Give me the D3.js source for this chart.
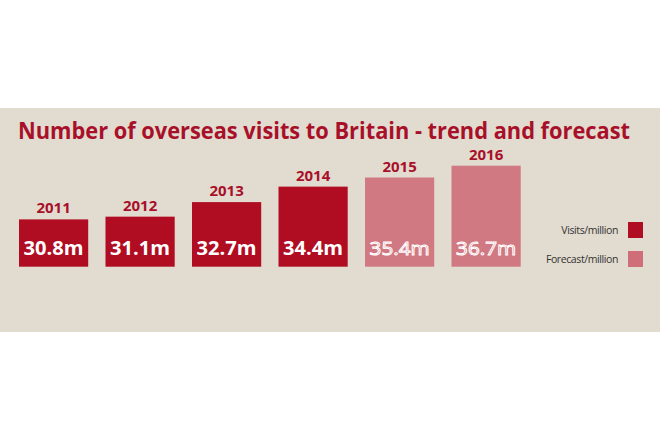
<!DOCTYPE html><html><head><meta charset="utf-8">
<script src="https://cdn.jsdelivr.net/npm/d3@7"></script>
<style>body{margin:0;background:#fff}</style></head><body>
<script>
const years=["2011","2012","2013","2014","2015","2016"];
const visits=[30.8,31.1,32.7,34.4,35.4,36.7];
const forecast=[false,false,false,false,true,true];
const labels=["30.8m","31.1m","32.7m","34.4m","35.4m","36.7m"];
const legendItems=["Visits/million","Forecast/million"];

const svg=d3.select("body").append("svg").attr("width",660).attr("height",440);
svg.append("rect").attr("x",0).attr("y",108).attr("width",660).attr("height",224).attr("fill","#e2dbcf");
svg.append("text").attr("x",18).attr("y",139).attr("fill","#a8102a")
 .attr("font-family","Open Sans").attr("font-weight",700).attr("font-size",24)
 .attr("textLength",612).attr("lengthAdjust","spacingAndGlyphs")
 .text("Number of overseas visits to Britain - trend and forecast");
const x=d3.scaleBand().domain(years).range([19,520.7]).paddingInner(0.2).paddingOuter(0);
const base=266.7;
const h=d3.scaleLinear().domain([25.6,36.7]).range([0,101]);
const g=svg.selectAll("g.b").data(years).join("g");
g.append("rect").attr("x",d=>x(d)).attr("width",x.bandwidth())
 .attr("y",(d,i)=>base-h(visits[i])).attr("height",(d,i)=>h(visits[i]))
 .attr("fill",(d,i)=>forecast[i]?"#cf6e79":"#b00d23").attr("opacity",(d,i)=>forecast[i]?0.9:1);
g.append("text").attr("x",d=>x(d)+x.bandwidth()/2).attr("y",(d,i)=>base-h(visits[i])-6)
 .attr("text-anchor","middle").attr("fill","#a8102a").attr("font-family","Open Sans")
 .attr("font-weight",700).attr("font-size",15).text(d=>d);
g.append("text").attr("x",d=>x(d)+x.bandwidth()/2).attr("y",255)
 .attr("text-anchor","middle").attr("font-family","Open Sans").attr("font-size",19)
 .attr("font-weight",(d,i)=>forecast[i]?400:700)
 .attr("fill",(d,i)=>forecast[i]?"#cf6e79":"#fff")
 .attr("stroke",(d,i)=>forecast[i]?"#fff":"none").attr("stroke-width",1)
 .attr("textLength",60).attr("lengthAdjust","spacingAndGlyphs")
 .text((d,i)=>labels[i]);
const lg=svg.selectAll("g.l").data(legendItems).join("g").attr("transform",(d,i)=>`translate(0,${230+i*29})`);
lg.append("text").attr("x",618).attr("y",4).attr("text-anchor","end").attr("font-family","Open Sans")
 .attr("font-size",10.5).attr("fill","#333").attr("letter-spacing",-0.4).text(d=>d);
lg.append("rect").attr("x",628).attr("y",-8).attr("width",15).attr("height",16)
 .attr("fill",(d,i)=>i?"#cf6e79":"#b00d23");
</script></body></html>
